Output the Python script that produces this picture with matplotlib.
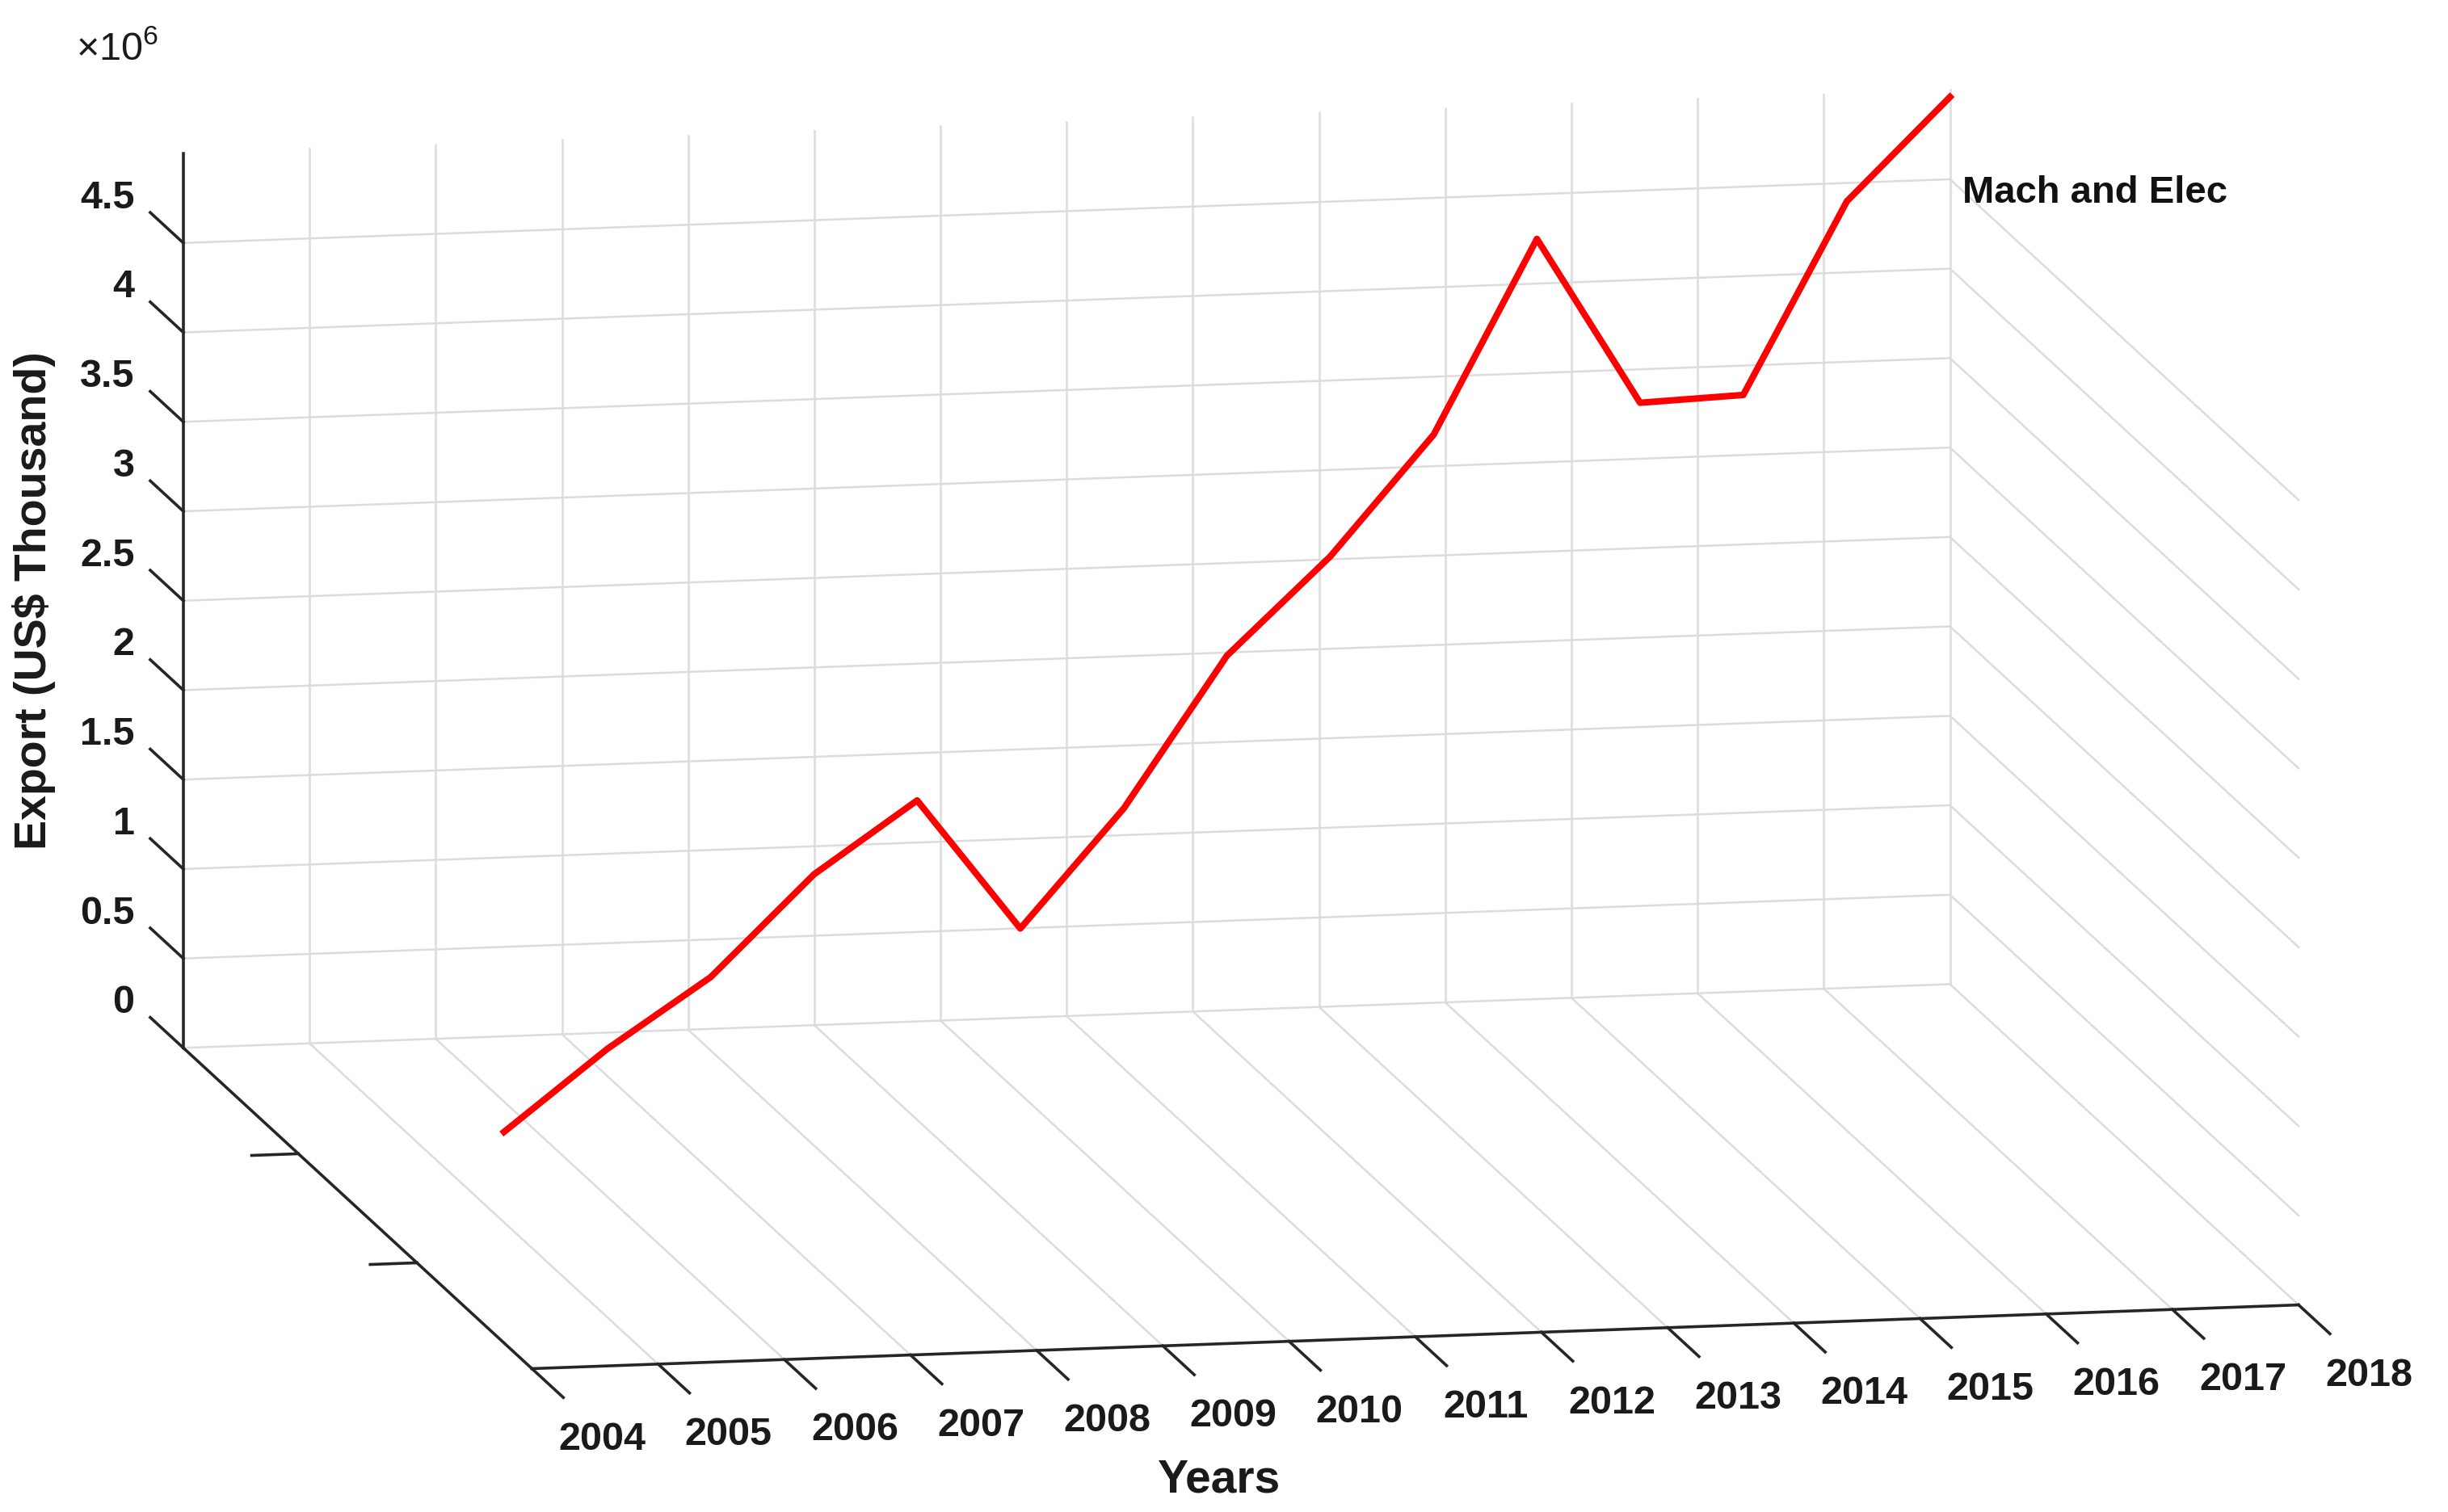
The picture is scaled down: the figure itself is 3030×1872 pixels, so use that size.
import matplotlib
matplotlib.use("Agg")
import matplotlib.pyplot as plt
from mpl_toolkits.mplot3d import proj3d
import numpy as np

plt.rcParams['font.family'] = ['Liberation Sans', 'DejaVu Sans']
plt.rcParams['mathtext.fontset'] = 'custom'
plt.rcParams['mathtext.rm'] = 'Liberation Sans'

# data
years = [2004, 2005, 2006, 2007, 2008, 2009, 2010, 2011,
         2012, 2013, 2014, 2015, 2016, 2017, 2018]
depth = [0.08, 0.146, 0.211, 0.277, 0.343, 0.409, 0.474, 0.54,
         0.606, 0.671, 0.737, 0.803, 0.869, 0.934, 1.0]
export = [1.18, 1.50, 1.76, 2.19, 2.46, 1.60, 2.13, 2.84,
          3.25, 3.79, 4.74, 3.68, 3.58, 4.52, 4.96]  # x 1e6 US$ thousand
export = [v * 1e6 for v in export]
zticks = [0, 0.5e6, 1e6, 1.5e6, 2e6, 2.5e6, 3e6, 3.5e6, 4e6, 4.5e6]
zticklabels = ['0', '0.5', '1', '1.5', '2', '2.5', '3', '3.5', '4', '4.5']
yticks = [0.33, 0.67]
series_name = 'Mach and Elec'

W, H = 3030, 1872
fig = plt.figure(figsize=(W / 100, H / 100), dpi=100)
ax = fig.add_axes([0, 0, 1, 1], projection='3d', proj_type='ortho')
ax.set_box_aspect((1152, 1148, 582))
ax.view_init(elev=10.5, azim=-101.2)
ax.set_axis_off()

x0, x1 = years[0], years[-1]
ztop = 5e6
grid = dict(color='#dcdcdc', lw=1.8, clip_on=False)
dark = dict(color='#262626', lw=2.6, clip_on=False)

def seg(p, q, **kw):
    ax.plot([p[0], q[0]], [p[1], q[1]], [p[2], q[2]], **kw)

# back wall
for yr in years[1:]:
    seg((yr, 1, 0), (yr, 1, ztop), **grid)
for z in zticks:
    seg((x0, 1, z), (x1, 1, z), **grid)
# right wall
for z in zticks[1:]:
    seg((x1, 1, z), (x1, 0, z), **grid)
# floor
for yr in years[1:]:
    seg((yr, 1, 0), (yr, 0, 0), **grid)

# axis lines
seg((x0, 1, 0), (x0, 1, ztop), **dark)
seg((x0, 1, 0), (x0, 0, 0), **dark)
seg((x0, 0, 0), (x1, 0, 0), **dark)

# ticks and labels
for yr in years:
    seg((yr, 0, 0), (yr, -0.09, 0), **dark)
    ax.text(yr - 0.05, -0.22, 0, str(yr), ha='center', va='center',
            fontsize=35, fontweight='bold', color='#1a1a1a', rotation=2,
            clip_on=False)
for z, lab in zip(zticks, zticklabels):
    seg((x0, 1, z), (x0, 1.095, z), **dark)
    ax.text(x0, 1.14, z, lab, ha='right', va='center', fontsize=35,
            fontweight='bold', color='#1a1a1a', clip_on=False)
for yv in yticks:
    seg((x0, 1 - yv, 0), (x0 - 0.37, 1 - yv, 0), **dark)

ax.plot(years, depth, export, color='#ff0000', lw=5.8, clip_on=False)
ax.text(x1 + 0.1, 1, 4.42e6, series_name, ha='left', va='center',
        fontsize=34, fontweight='bold', color='#111111', clip_on=False)

ax.set_xlim(x0, x1)
ax.set_ylim(0, 1)
ax.set_zlim(0, ztop)

# fit the projected box onto the target pixel spots
targets = {(x0, 1, 0): (227, 1297), (x1, 0, 0): (2845, 1616)}

def project(pt):
    M = ax.get_proj()
    px, py, _ = proj3d.proj_transform(pt[0], pt[1], pt[2], M)
    dx, dy = ax.transData.transform((px, py))
    return np.array([dx, H - dy])

zoom = 1.0
for _ in range(4):
    ax.set_box_aspect((1152, 1148, 582), zoom=zoom)
    fig.canvas.draw()
    pts = [project(k) for k in targets]
    tgt = [np.array(v) for v in targets.values()]
    zoom *= np.linalg.norm(tgt[1] - tgt[0]) / np.linalg.norm(pts[1] - pts[0])
ax.set_box_aspect((1152, 1148, 582), zoom=zoom)
fig.canvas.draw()
for _ in range(3):
    pts = [project(k) for k in targets]
    tgt = [np.array(v) for v in targets.values()]
    off = np.mean(tgt, axis=0) - np.mean(pts, axis=0)
    pos = ax.get_position()
    ax.set_position([pos.x0 + off[0] / W, pos.y0 - off[1] / H,
                     pos.width, pos.height])
    fig.canvas.draw()

fig.text(0.498, 0.021, 'Years', ha='center', va='center', fontsize=41,
         fontweight='bold', color='#1a1a1a')
fig.text(0.014, 0.603, 'Export (US$ Thousand)', ha='center', va='center',
         rotation=90, fontsize=40, fontweight='bold', color='#1a1a1a')
fig.text(0.031, 0.967, r'×10$^{6}$', ha='left', va='center', fontsize=35,
         color='#1a1a1a')

fig.savefig('out.png', dpi=100)
